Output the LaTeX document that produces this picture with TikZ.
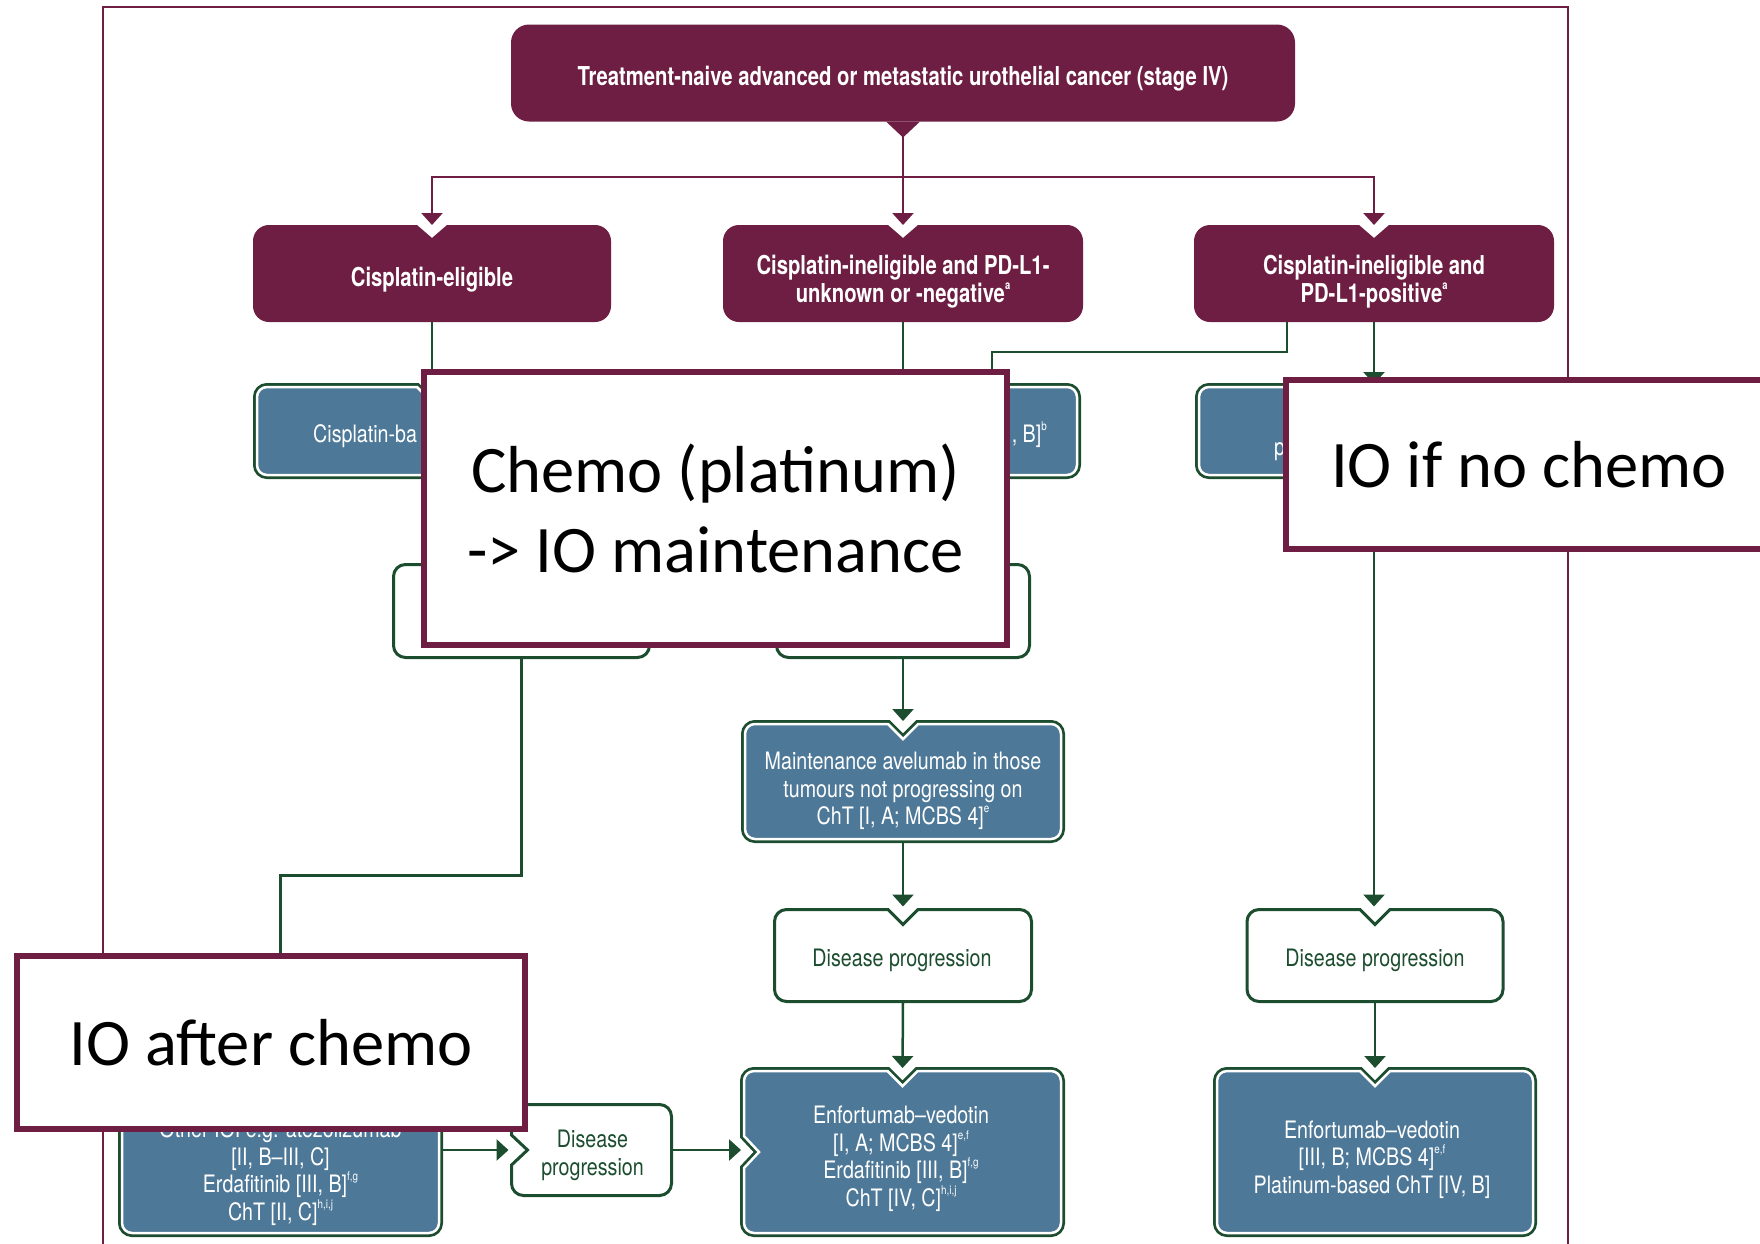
\documentclass[tikz,border=0pt]{standalone}
\usepackage{fontspec}
\usetikzlibrary{arrows.meta,calc,backgrounds}
\definecolor{maroonC}{HTML}{6D1E42}
\definecolor{blueC}{HTML}{4D7898}
\definecolor{greenC}{HTML}{1C4D2F}
\newfontfamily\hcondb[FakeStretch=0.78]{TeX Gyre Heros}
\newfontfamily\hcond[FakeStretch=0.82]{TeX Gyre Heros}
\newfontfamily\calib{Carlito}
\newcommand\supx[1]{\raisebox{0.5em}{\fontsize{12}{12}\selectfont #1}}
% #1 style, #2 node, #3 top notch half width, #4 top notch depth,
% #5 left notch half height, #6 left notch depth, #7 corner radius
\newcommand\boxline[7]{%
\path[#1] let \p1=(#2.north west), \p2=(#2.south east), \p3=(#2.north), \p4=(#2.west) in
 ({\x3-#3pt},\y1) -- (\x3,{\y1-#4pt}) -- ({\x3+#3pt},\y1) -- ({\x2-#7pt},\y1)
 arc[start angle=90,end angle=0,radius=#7pt] -- (\x2,{\y2+#7pt})
 arc[start angle=0,end angle=-90,radius=#7pt] -- ({\x1+#7pt},\y2)
 arc[start angle=-90,end angle=-180,radius=#7pt] -- (\x1,{\y4-#5pt}) -- ({\x1+#6pt},\y4) -- (\x1,{\y4+#5pt}) -- (\x1,{\y1-#7pt})
 arc[start angle=180,end angle=90,radius=#7pt] -- cycle;}
\begin{document}
\begin{tikzpicture}[x=1pt,y=-1pt,
 shapebox/.style n args={2}{rectangle, inner sep=0pt, outer sep=0pt, minimum width=#1pt, minimum height=#2pt},
 maroonout/.style={fill=maroonC},
 blueout/.style={fill=blueC, draw=white, line width=2.5pt, preaction={draw=greenC, line width=8pt}},
 whiteout/.style={fill=white, draw=greenC, line width=3pt},
 tmar/.style={font=\hcondb\bfseries\fontsize{26}{28}\selectfont, text=white, align=center, inner sep=0pt},
 tblue/.style={font=\hcond\fontsize{24}{27.5}\selectfont, text=white, align=center, inner sep=0pt},
 tgreen/.style={font=\hcond\fontsize{24}{27.5}\selectfont, text=greenC, align=center, inner sep=0pt},
 ovbox/.style={fill=white, draw=maroonC, line width=6pt, font=\calib\fontsize{66.5}{80}\selectfont, text=black, align=center, inner sep=0pt},
 mline/.style={draw=maroonC, line width=2.5pt, -{Triangle[width=21pt,length=12pt]}},
 gline/.style={draw=greenC, line width=2.5pt},
 garrow/.style={gline, -{Triangle[width=21pt,length=12pt]}, shorten >=3pt}
]
\useasboundingbox (0,0) rectangle (1760,1243);

% box shapes
\node[shapebox={784}{97}] (title) at (903,73) {};
\node[shapebox={358}{97}] (m1) at (432,273.5) {};
\node[shapebox={360}{97}] (m2) at (903,273.5) {};
\node[shapebox={360}{97}] (m3) at (1374,273.5) {};
\node[shapebox={350}{88}] (b1) at (432,431) {};
\node[shapebox={348}{88}] (b2) at (903,431) {};
\node[shapebox={350}{88}] (b3) at (1374,431) {};
\node[shapebox={256}{93}] (d1) at (521.5,611) {};
\node[shapebox={253}{93}] (d2) at (903,611) {};
\node[shapebox={316}{115}] (mt) at (903,781.5) {};
\node[shapebox={257}{92}] (d5) at (903,955.5) {};
\node[shapebox={256}{92}] (dR) at (1375,955.5) {};
\node[shapebox={317}{162}] (e1) at (280.5,1152) {};
\node[shapebox={317}{162}] (e2) at (902.5,1152) {};
\node[shapebox={316}{162}] (e3) at (1375,1152) {};
\node[shapebox={160}{91}] (sd) at (591.5,1150) {};
\coordinate (bus) at (903,177);

\begin{pgfonlayer}{background}
\draw[maroonC, line width=2pt] (103,1300) -- (103,7) -- (1568,7) -- (1568,1300);
% connectors
\draw[mline] (title.south) -- (m2.north);
\draw[mline] (title.south) -- (bus) -| (m1.north);
\draw[mline] (title.south) -- (bus) -| (m3.north);
\draw[garrow] (m1.south) -- (b1.north);
\draw[garrow] (m2.south) -- (b2.north);
\draw[garrow] ([xshift=-87pt]m3.south) -- ++(0,30) -| ([xshift=89pt]b2.north);
\draw[garrow] (m3.south) -- (b3.north);
\draw[garrow] (d1.south) -- ++(0,218) -| (e1.north);
\draw[garrow] (d2.south) -- (mt.north);
\draw[garrow] (b3.south) -- (b3.south |- dR.north);
\draw[garrow] (mt.south) -- (d5.north);
\draw[garrow] (d5.south) -- (e2.north);
\draw[garrow] (dR.south) -- (e3.north);
\draw[garrow] (e1.east |- sd.west) -- (sd.west);
\draw[garrow] (sd.east) -- (e2.west |- sd.east);
% outlines
\boxline{maroonout}{title}{17}{0}{10}{0}{18}
\fill[maroonC] ([xshift=-17pt]title.south) -- ([yshift=-16pt]title.south) -- ([xshift=17pt]title.south) -- cycle;
\boxline{maroonout}{m1}{15}{13}{10}{0}{16}
\boxline{maroonout}{m2}{15}{13}{10}{0}{16}
\boxline{maroonout}{m3}{15}{13}{10}{0}{16}
\boxline{blueout}{b1}{15}{15}{10}{0}{10}
\boxline{blueout}{b2}{15}{15}{10}{0}{10}
\boxline{blueout}{b3}{15}{15}{10}{0}{10}
\boxline{whiteout}{d1}{15}{15}{10}{0}{12}
\boxline{whiteout}{d2}{15}{15}{10}{0}{12}
\boxline{blueout}{mt}{15}{15}{10}{0}{10}
\boxline{whiteout}{d5}{15}{15}{10}{0}{12}
\boxline{whiteout}{dR}{15}{15}{10}{0}{12}
\boxline{blueout}{e1}{15}{15}{10}{0}{10}
\boxline{blueout}{e2}{15}{15}{16}{15}{10}
\boxline{blueout}{e3}{15}{15}{10}{0}{10}
\boxline{whiteout}{sd}{15}{0}{15}{16}{12}
\end{pgfonlayer}

% texts
\node[tmar] (ttitle) at (903,78.5) {Treatment-naive advanced or metastatic urothelial cancer (stage IV)};
\node[tmar] (tm1) at (432,279.5) {Cisplatin-eligible};
\node[tmar] (tm2) at (903,281.5) {Cisplatin-ineligible and PD-L1-\\unknown or -negative\supx{a}};
\node[tmar] (tm3) at (1374,281.5) {Cisplatin-ineligible and\\PD-L1-positive\supx{a}};
\node[tblue, anchor=base west] (tb1) at (313,442) {Cisplatin-ba};
\node[tblue, anchor=base east] (tb2) at (1047,442) {, B]\supx{b}};
\node[tblue, anchor=base west] (tb3) at (1274,455) {p};
\node[tblue] (tmt) at (903,791) {Maintenance avelumab in those\\tumours not progressing on\\ChT [I, A; MCBS 4]\supx{e}};
\node[tgreen] (td5) at (902,960.5) {Disease progression};
\node[tgreen] (tdR) at (1375,960.5) {Disease progression};
\node[tgreen] (tsd) at (592.5,1155.5) {Disease\\progression};
\node[tblue] (te1) at (280.5,1172.5) {Other IOI e.g. atezolizumab\\{}[II, B–III, C]\\Erdafitinib [III, B]\supx{f,g}\\ChT [II, C]\supx{h,i,j}};
\node[tblue] (te2) at (901,1158.5) {Enfortumab–vedotin\\{}[I, A; MCBS 4]\supx{e,f}\\Erdafitinib [III, B]\supx{f,g}\\ChT [IV, C]\supx{h,i,j}};
\node[tblue] (te3) at (1372,1159.5) {Enfortumab–vedotin\\{}[III, B; MCBS 4]\supx{e,f}\\Platinum-based ChT [IV, B]};

% overlay boxes
\node[ovbox, minimum width=583pt, minimum height=273pt] (o1) at (715.5,508.5) {Chemo (platinum)\\-> IO maintenance};
\node[ovbox, minimum width=486pt, minimum height=169pt] (o2) at (1529,464.5) {IO if no chemo};
\node[ovbox, minimum width=508pt, minimum height=173pt] (o3) at (271,1042.5) {IO after chemo};
\end{tikzpicture}
\end{document}
